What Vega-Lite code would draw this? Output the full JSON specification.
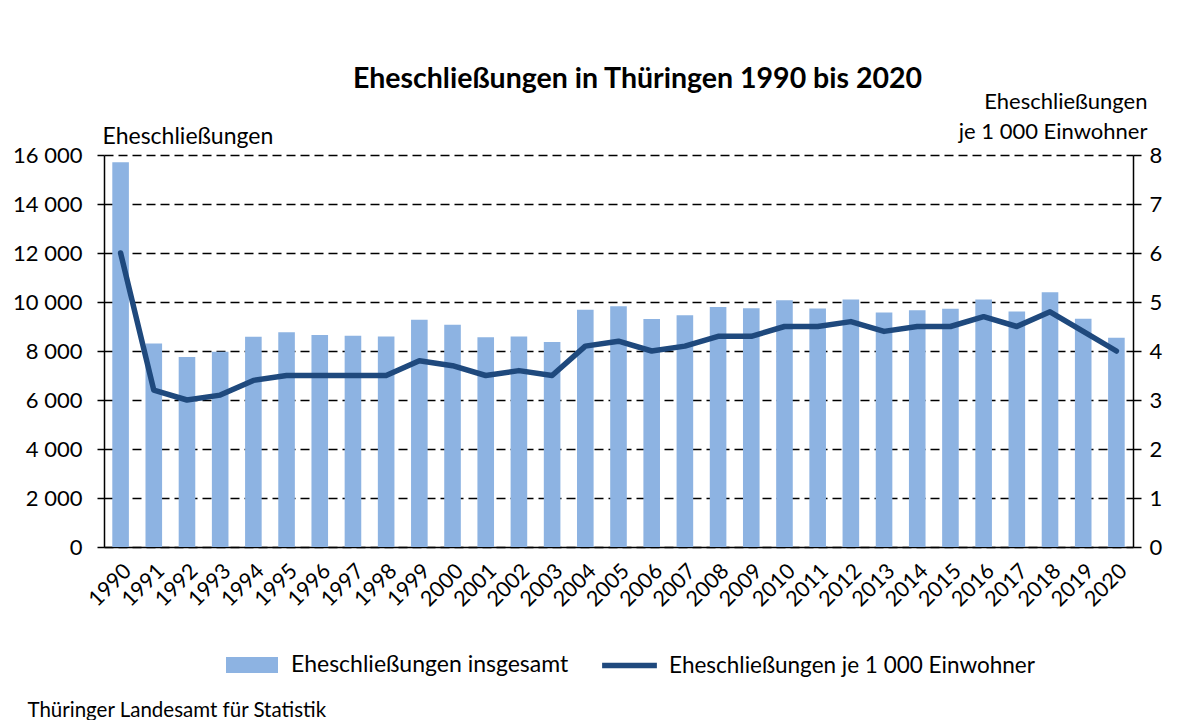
{
  "$schema": "https://vega.github.io/schema/vega-lite/v6.json",
  "autosize": "none",
  "width": 1029,
  "height": 392,
  "padding": {"left": 104, "top": 155, "right": 59, "bottom": 173},
  "background": "white",
  "config": {
    "font": "Lato",
    "view": {"stroke": null},
    "axis": {"labelFont": "Lato", "titleFont": "Lato", "labelColor": "black", "titleColor": "black", "labelFontSize": 22, "titleFontSize": 22, "titleFontWeight": "normal"}
  },
  "title": {
    "text": "Eheschließungen in Thüringen 1990 bis 2020",
    "font": "Lato",
    "fontSize": 28.5,
    "fontWeight": "bold",
    "color": "black",
    "anchor": "middle",
    "frame": "group",
    "offset": -3,
    "dx": 19
  },
  "data": {
    "values": [
      {"Jahr": "1990", "insgesamt": 15700, "je1000": 6.0},
      {"Jahr": "1991", "insgesamt": 8310, "je1000": 3.2},
      {"Jahr": "1992", "insgesamt": 7760, "je1000": 3.0},
      {"Jahr": "1993", "insgesamt": 7970, "je1000": 3.1},
      {"Jahr": "1994", "insgesamt": 8580, "je1000": 3.4},
      {"Jahr": "1995", "insgesamt": 8770, "je1000": 3.5},
      {"Jahr": "1996", "insgesamt": 8650, "je1000": 3.5},
      {"Jahr": "1997", "insgesamt": 8620, "je1000": 3.5},
      {"Jahr": "1998", "insgesamt": 8590, "je1000": 3.5},
      {"Jahr": "1999", "insgesamt": 9280, "je1000": 3.8},
      {"Jahr": "2000", "insgesamt": 9070, "je1000": 3.7},
      {"Jahr": "2001", "insgesamt": 8560, "je1000": 3.5},
      {"Jahr": "2002", "insgesamt": 8590, "je1000": 3.6},
      {"Jahr": "2003", "insgesamt": 8370, "je1000": 3.5},
      {"Jahr": "2004", "insgesamt": 9680, "je1000": 4.1},
      {"Jahr": "2005", "insgesamt": 9830, "je1000": 4.2},
      {"Jahr": "2006", "insgesamt": 9310, "je1000": 4.0},
      {"Jahr": "2007", "insgesamt": 9460, "je1000": 4.1},
      {"Jahr": "2008", "insgesamt": 9800, "je1000": 4.3},
      {"Jahr": "2009", "insgesamt": 9740, "je1000": 4.3},
      {"Jahr": "2010", "insgesamt": 10070, "je1000": 4.5},
      {"Jahr": "2011", "insgesamt": 9730, "je1000": 4.5},
      {"Jahr": "2012", "insgesamt": 10100, "je1000": 4.6},
      {"Jahr": "2013", "insgesamt": 9570, "je1000": 4.4},
      {"Jahr": "2014", "insgesamt": 9660, "je1000": 4.5},
      {"Jahr": "2015", "insgesamt": 9720, "je1000": 4.5},
      {"Jahr": "2016", "insgesamt": 10100, "je1000": 4.7},
      {"Jahr": "2017", "insgesamt": 9610, "je1000": 4.5},
      {"Jahr": "2018", "insgesamt": 10400, "je1000": 4.8},
      {"Jahr": "2019", "insgesamt": 9320, "je1000": 4.4},
      {"Jahr": "2020", "insgesamt": 8540, "je1000": 4.0}
    ]
  },
  "encoding": {
    "x": {
      "field": "Jahr",
      "type": "ordinal",
      "scale": {"paddingInner": 0.5, "paddingOuter": 0.25},
      "axis": {
        "title": "Thüringer Landesamt für Statistik",
        "titleFontSize": 20.5,
        "titleAnchor": "start",
        "titleAlign": "left",
        "titleX": -77,
        "titleY": 169,
        "titleBaseline": "alphabetic",
        "labelAngle": -45,
        "labelFontSize": 21.5,
        "labelPadding": 13,
        "ticks": false,
        "domainColor": "black",
        "domainWidth": 1.5,
        "grid": false
      }
    }
  },
  "layer": [
    {
      "mark": {"type": "bar", "color": "#8db3e2"},
      "encoding": {
        "y": {
          "field": "insgesamt",
          "type": "quantitative",
          "scale": {"domain": [0, 16000], "nice": false},
          "axis": {
            "title": "Eheschließungen",
            "titleFontSize": 23,
            "titleAngle": 0,
            "titleAlign": "left",
            "titleAnchor": "start",
            "titleBaseline": "alphabetic",
            "titleX": -2,
            "titleY": -12,
            "values": [0, 2000, 4000, 6000, 8000, 10000, 12000, 14000, 16000],
            "labelExpr": "replace(format(datum.value, ','), ',', ' ')",
            "labelPadding": 15,
            "tickSize": 7,
            "tickColor": "black",
            "tickWidth": 1.5,
            "domainColor": "black",
            "domainWidth": 1.5,
            "grid": true,
            "gridColor": "black",
            "gridWidth": 1.3,
            "gridDash": [9, 5]
          }
        },
        "fill": {
          "datum": "Eheschließungen insgesamt",
          "scale": {"range": ["#8db3e2"]},
          "legend": {
            "title": null,
            "orient": "none",
            "legendX": 128,
            "legendY": 490,
            "symbolType": "M-1.3,-0.4h2.6v0.8h-2.6z",
            "symbolSize": 1600,
            "symbolStrokeWidth": 0,
            "labelFont": "Lato",
            "labelFontSize": 23,
            "labelColor": "black",
            "labelOffset": 19,
            "labelLimit": 500
          }
        }
      }
    },
    {
      "mark": {"type": "line", "strokeWidth": 5.5, "strokeCap": "round", "strokeJoin": "round"},
      "encoding": {
        "y": {
          "field": "je1000",
          "type": "quantitative",
          "scale": {"domain": [0, 8], "nice": false},
          "axis": {
            "orient": "right",
            "title": ["Eheschließungen", "je 1 000 Einwohner"],
            "titleAngle": 0,
            "titleAlign": "right",
            "titleAnchor": "start",
            "titleBaseline": "alphabetic",
            "titleX": 14,
            "titleY": -47,
            "titleLineHeight": 30,
            "values": [0, 1, 2, 3, 4, 5, 6, 7, 8],
            "labelPadding": 8,
            "tickSize": 8,
            "tickColor": "black",
            "tickWidth": 1.5,
            "domainColor": "black",
            "domainWidth": 1.5,
            "grid": false
          }
        },
        "stroke": {
          "datum": "Eheschließungen je 1 000 Einwohner",
          "scale": {"range": ["#1f497d"]},
          "legend": {
            "title": null,
            "orient": "none",
            "legendX": 495,
            "legendY": 480,
            "symbolType": "stroke",
            "symbolSize": 3000,
            "symbolStrokeWidth": 5.5,
            "labelFont": "Lato",
            "labelFontSize": 22.5,
            "labelColor": "black",
            "labelOffset": 9,
            "labelLimit": 500
          }
        }
      }
    }
  ],
  "resolve": {"scale": {"y": "independent", "fill": "independent", "stroke": "independent"}}
}
